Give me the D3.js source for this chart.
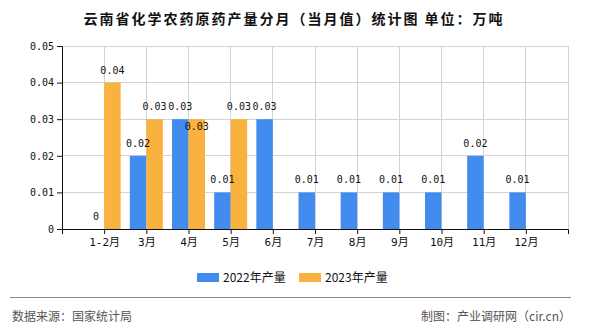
<!DOCTYPE html>
<html><head><meta charset="utf-8">
<script src="https://cdn.jsdelivr.net/npm/d3@7"></script>
<style>
html,body{margin:0;padding:0;background:#fff;}
svg{display:block;}
</style></head>
<body>
<svg id="c" width="590" height="330"></svg>
<script>
const categories = ["1-2月","3月","4月","5月","6月","7月","8月","9月","10月","11月","12月"];
const values2022 = [0,0.02,0.03,0.01,0.03,0.01,0.01,0.01,0.01,0.02,0.01];
const values2023 = [0.04,0.03,0.03,0.03,null,null,null,null,null,null,null];
const seriesNames = ["2022年产量","2023年产量"];
const colors = ["#428BEF","#F9B23F"];
const yTicks = [0,0.01,0.02,0.03,0.04,0.05];
const titleText = "云南省化学农药原药产量分月（当月值）统计图 单位：万吨";
const sourceText = "数据来源：国家统计局";
const creditText = "制图：产业调研网（cir.cn）";

const svg = d3.select("#c");
const L = 62, R = 568, T = 46, B = 229;
const mono = "'DejaVu Sans Mono','Noto Sans CJK SC',monospace";
const cjk = "'Noto Sans CJK SC','DejaVu Sans',sans-serif";

const x = d3.scalePoint().domain(categories).range([L, R]).padding(1);
const y = d3.scaleLinear().domain([0, 0.05]).range([B, T]);
const bw = 16.5;

// title
svg.append("text").attr("x", 294).attr("y", 24).attr("text-anchor","middle")
  .attr("font-family", cjk).attr("font-size", 14).attr("font-weight","bold")
  .attr("letter-spacing", 2).attr("fill","#111").text(titleText);

// grid
const g = svg.append("g");
g.selectAll(".hg").data(yTicks.filter(d=>d>0)).join("line")
  .attr("x1", L).attr("x2", R).attr("y1", d=>y(d)).attr("y2", d=>y(d))
  .attr("stroke","#d3d3d3").attr("stroke-width",1).attr("shape-rendering","crispEdges");
g.selectAll(".vg").data(categories.concat(["__end"])).join("line")
  .attr("x1", d=> d==="__end" ? R : x(d)).attr("x2", d=> d==="__end" ? R : x(d))
  .attr("y1", T).attr("y2", B)
  .attr("stroke","#d3d3d3").attr("stroke-width",1).attr("shape-rendering","crispEdges");

// bars
const series = [values2022, values2023];
series.forEach((vals, si) => {
  svg.append("g").selectAll("rect").data(vals.map((v,i)=>({v, c:categories[i]})).filter(d=>d.v!==null && d.v>0))
    .join("rect")
    .attr("x", d => si===0 ? x(d.c)-bw : x(d.c))
    .attr("width", bw)
    .attr("y", d => y(d.v))
    .attr("height", d => B - y(d.v))
    .attr("fill", colors[si]);
});

// axes
const yAxis = d3.axisLeft(y).tickValues(yTicks).tickSize(5).tickPadding(3)
  .tickFormat(d => d===0 ? "0" : d3.format(".2f")(d));
const ya = svg.append("g").attr("transform",`translate(${L},0)`).call(yAxis);
ya.selectAll("text").attr("font-family", mono).attr("font-size", 10).attr("fill","#111");
ya.selectAll("line,path").attr("stroke","#111");

const xAxis = d3.axisBottom(x).tickSize(5).tickPadding(4).tickSizeOuter(5);
const xa = svg.append("g").attr("transform",`translate(0,${B})`).call(xAxis);
xa.selectAll("text").attr("font-family", mono).attr("font-size", 11).attr("fill","#111");
xa.selectAll("line,path").attr("stroke","#111");

// value labels with simple collision avoidance
const placed = [];
const labels = [];
categories.forEach((c,i) => {
  series.forEach((vals, si) => {
    const v = vals[i];
    if (v === null) return;
    const cx = si===0 ? x(c)-bw/2 : x(c)+bw/2;
    const txt = v===0 ? "0" : d3.format(".2f")(v);
    const w = txt.length * 6.02;
    let by = y(v) - 9;
    const overlaps = placed.some(p => Math.abs(p.cy - by) < 10 && (cx - w/2) < p.x2 && (cx + w/2) > p.x1);
    if (overlaps) by = y(v) + 11;
    placed.push({x1: cx - w/2, x2: cx + w/2, cy: by});
    labels.push({cx, by, txt});
  });
});
svg.append("g").selectAll("text").data(labels).join("text")
  .attr("x", d=>d.cx).attr("y", d=>d.by).attr("text-anchor","middle")
  .attr("font-family", mono).attr("font-size", 10).attr("fill","#111").text(d=>d.txt);

// legend
const lg = svg.append("g");
const legX = [197, 299];
seriesNames.forEach((n, i) => {
  lg.append("rect").attr("x", legX[i]).attr("y", 273).attr("width", 22).attr("height", 9).attr("fill", colors[i]);
  lg.append("text").attr("x", legX[i]+26).attr("y", 282).attr("font-family", cjk).attr("font-size", 12)
    .attr("fill","#111").text(n);
});

// footer
svg.append("line").attr("x1",10).attr("x2",571).attr("y1",297.5).attr("y2",297.5)
  .attr("stroke","#888").attr("stroke-width",1.2);
svg.append("text").attr("x",12).attr("y",321).attr("font-family",cjk).attr("font-size",12)
  .attr("fill","#555").text(sourceText);
svg.append("text").attr("x",571).attr("y",321).attr("text-anchor","end").attr("font-family",cjk).attr("font-size",12)
  .attr("fill","#555").text(creditText);
</script>
</body></html>
